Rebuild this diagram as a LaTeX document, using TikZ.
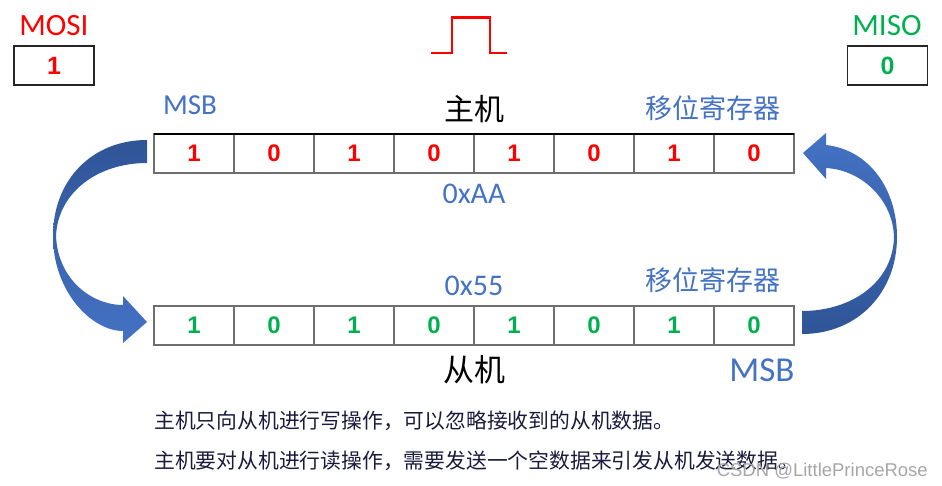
\documentclass[tikz,border=0pt]{standalone}
\usepackage{fontspec}
\setmainfont{Carlito}
\newfontfamily\cjk{Noto Sans CJK SC}
\newfontfamily\digitfont{Liberation Sans}
\newfontfamily\wmfont{Liberation Sans}
\definecolor{myred}{HTML}{FF0000}
\definecolor{mygreen}{HTML}{00B050}
\definecolor{myblue}{HTML}{4472C4}
\definecolor{darkblue}{HTML}{2F5597}
\definecolor{cellgray}{HTML}{6E6E6E}
\definecolor{txtdark}{HTML}{1A1A3E}
\begin{document}
\begin{tikzpicture}[x=1pt,y=-1pt,
  cell/.style={draw=cellgray,line width=1.3pt,minimum width=80pt,minimum height=39pt,inner sep=0pt,outer sep=0pt,
    font=\digitfont\bfseries\fontsize{24}{24}\selectfont},
  iobox/.style={draw=black!85,line width=1.2pt,minimum width=80pt,minimum height=39pt,inner sep=0pt,
    font=\digitfont\bfseries\fontsize{25}{25}\selectfont},
  lbl/.style={inner sep=0pt,font=\fontsize{#1}{#1}\selectfont},
  cjklbl/.style={inner sep=0pt,font=\cjk\fontsize{#1}{#1}\selectfont},
  note/.style={inner sep=0pt,anchor=west,text=txtdark,font=\cjk\fontsize{20.8}{20.8}\selectfont}]
\useasboundingbox (0,0) rectangle (942,486);

% MOSI / MISO
\node[lbl=31,text=myred] (mosil) at (54,26) {MOSI};
\node[iobox,text=myred] (mosi) at (54,65.5) {1};
\node[lbl=31,text=mygreen] (misol) at (887,26) {MISO};
\node[iobox,text=mygreen] (miso) at (887.5,65.5) {0};

% clock pulse
\draw[myred,line width=2.6pt] (431,53) -- (452,53) -- (452,17.5) -- (490,17.5) -- (490,53) -- (507,53);

% registers
\foreach \v [count=\i] in {1,0,1,0,1,0,1,0}{
  \node[cell,text=myred] (t\i) at (154+80*\i-40,153.5) {\v};
  \node[cell,text=mygreen] (b\i) at (154+80*\i-40,325.5) {\v};
}
\draw[black,line width=1.3pt] (t1.north west) -- (t8.north east);

% labels
\node[lbl=29,text=myblue] (msbt) at (190,105) {MSB};
\node[cjklbl=30] (master) at (474,109) {主机};
\node[cjklbl=27,text=myblue] (srt) at (713,108) {移位寄存器};
\node[lbl=30,text=myblue] (aa) at (474,194) {0xAA};
\node[lbl=30,text=myblue] (x55) at (474,286) {0x55};
\node[cjklbl=27,text=myblue] (srb) at (713,280) {移位寄存器};
\node[cjklbl=31,text=black] (slave) at (474,370) {从机};
\node[lbl=35,text=myblue] (msbb) at (762,370) {MSB};

% curved arrows
\shade[top color=darkblue,bottom color=myblue]
  (147,140) .. controls (92,140) and (53,180) .. (53,236)
  .. controls (53,292) and (92,331) .. (123,331)
  -- (123,343) -- (147,322) -- (123,296) -- (123,305)
  .. controls (92,305) and (58,280) .. (56,236)
  .. controls (58,192) and (98,163) .. (147,163) -- cycle;
\shade[top color=myblue,bottom color=darkblue]
  (802,311) .. controls (852,311) and (893,282) .. (894,237)
  .. controls (893,200) and (862,170) .. (826,168)
  -- (826,179) -- (803,153) -- (826,133) -- (826,145)
  .. controls (870,150) and (897,190) .. (897,237)
  .. controls (897,292) and (858,334) .. (802,334) -- cycle;

% notes
\node[note] (n1) at (154,421) {主机只向从机进行写操作，可以忽略接收到的从机数据。};
\node[note] (n2) at (154,461) {主机要对从机进行读操作，需要发送一个空数据来引发从机发送数据。};

% watermark
\node[inner sep=0pt,anchor=east,text=black!35,font=\wmfont\fontsize{18.5}{18.5}\selectfont] (wm) at (928,471) {CSDN @LittlePrinceRose};
\end{tikzpicture}
\end{document}
